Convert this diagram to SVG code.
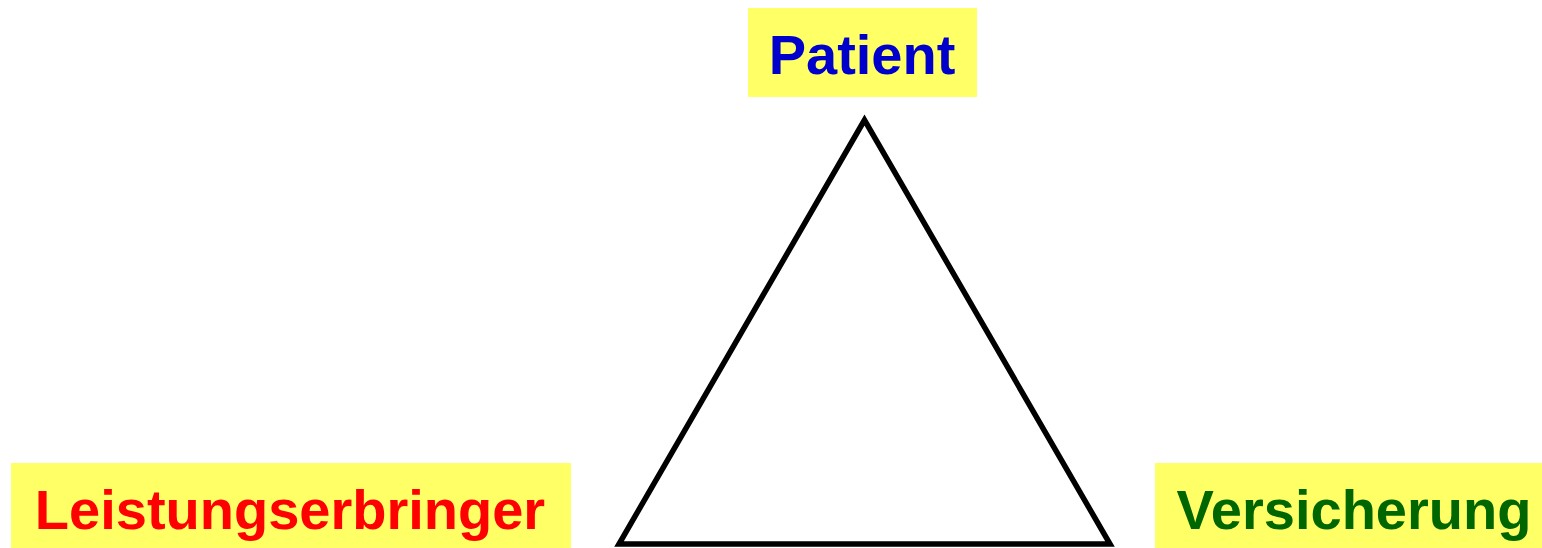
<svg xmlns="http://www.w3.org/2000/svg" width="1542" height="548" viewBox="0 0 1542 548">
<style>
.box{fill:#ffff66}
.lbl{font-family:"Liberation Sans",Arial,sans-serif;font-weight:bold;font-size:56px;text-anchor:middle}
</style>
<rect width="1542" height="548" fill="#ffffff"/>
<g id="connectors">
<polygon points="864.5,120 619,544 1110,544" fill="none" stroke="#000000" stroke-width="5.5"/>
</g>
<g id="patient">
<rect class="box" x="748" y="8" width="229" height="89"/>
<text class="lbl" x="862" y="74" fill="#0000cc">Patient</text>
</g>
<g id="leistungserbringer">
<rect class="box" x="11" y="463" width="560" height="85"/>
<text class="lbl" x="290" y="529" fill="#ff0000">Leistungserbringer</text>
</g>
<g id="versicherung">
<rect class="box" x="1155" y="463" width="387" height="85"/>
<text class="lbl" x="1354" y="529" fill="#006600">Versicherung</text>
</g>
</svg>
